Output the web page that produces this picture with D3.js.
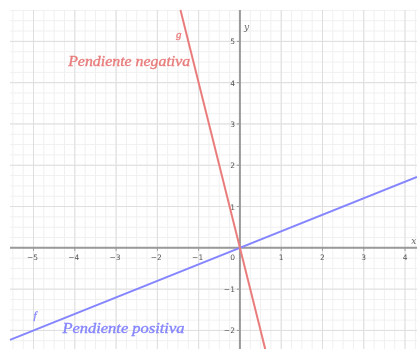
<!DOCTYPE html>
<html>
<head>
<meta charset="utf-8">
<script src="https://cdn.jsdelivr.net/npm/d3@7"></script>
<style>
  html, body { margin: 0; padding: 0; background: #fff; }
  svg { display: block; filter: blur(0.45px); }
</style>
</head>
<body>
<svg id="chart" width="417" height="349"></svg>
<script>
// ---- data ----
const xTicks = [-5, -4, -3, -2, -1, 1, 2, 3, 4];
const yTicks = [-2, -1, 1, 2, 3, 4, 5];
const xTickLabels = ["−5", "−4", "−3", "−2", "−1", "1", "2", "3", "4"];
const yTickLabels = ["−2", "−1", "1", "2", "3", "4", "5"];
const lineNames = ["f", "g"];
const lineSlopes = [0.4, -4];
const lineColors = ["#8585ff", "#e97c7c"];
const lineCaptions = ["Pendiente positiva", "Pendiente negativa"];
// where each caption/name sits (data coordinates)
const captionX = [-4.3, -4.16];
const captionY = [-2.07, 4.4];
const nameX = [-5.0, -1.55];
const nameY = [-1.72, 5.08];

// ---- scales ----
const x = d3.scaleLinear().domain([-5.57, 4.29]).range([10, 417]);
const y = d3.scaleLinear().domain([5.76, -2.45]).range([10, 349]);
const svg = d3.select("#chart");

// grid
const minorX = d3.range(-5.5, 4.3, 0.25);
const minorY = d3.range(-2.25, 5.8, 0.25);
const g = svg.append("g");
g.selectAll(".mx").data(minorX).join("line")
  .attr("x1", d => x(d)).attr("x2", d => x(d))
  .attr("y1", y.range()[0]).attr("y2", y.range()[1])
  .attr("stroke", "#f0f0f0").attr("stroke-width", 1);
g.selectAll(".my").data(minorY).join("line")
  .attr("y1", d => y(d)).attr("y2", d => y(d))
  .attr("x1", x.range()[0]).attr("x2", x.range()[1])
  .attr("stroke", "#f0f0f0").attr("stroke-width", 1);
const majorX = d3.range(-5, 5, 1);
const majorY = d3.range(-2, 6, 1);
g.selectAll(".Mx").data(majorX).join("line")
  .attr("x1", d => x(d)).attr("x2", d => x(d))
  .attr("y1", y.range()[0]).attr("y2", y.range()[1])
  .attr("stroke", "#dedede").attr("stroke-width", 1);
g.selectAll(".My").data(majorY).join("line")
  .attr("y1", d => y(d)).attr("y2", d => y(d))
  .attr("x1", x.range()[0]).attr("x2", x.range()[1])
  .attr("stroke", "#dedede").attr("stroke-width", 1);

// axes
const axisColor = "#9a9a9a";
svg.append("line").attr("x1", x.range()[0]).attr("x2", x.range()[1])
  .attr("y1", y(0)).attr("y2", y(0)).attr("stroke", axisColor).attr("stroke-width", 2);
svg.append("line").attr("x1", x(0)).attr("x2", x(0))
  .attr("y1", y.range()[0]).attr("y2", y.range()[1]).attr("stroke", axisColor).attr("stroke-width", 2);

// ticks
svg.selectAll(".xt").data(xTicks).join("line")
  .attr("x1", d => x(d)).attr("x2", d => x(d))
  .attr("y1", y(0)).attr("y2", y(0) + 3).attr("stroke", axisColor).attr("stroke-width", 1);
svg.selectAll(".yt").data(yTicks).join("line")
  .attr("y1", d => y(d)).attr("y2", d => y(d))
  .attr("x1", x(0) - 3).attr("x2", x(0)).attr("stroke", axisColor).attr("stroke-width", 1);

const tickFont = "DejaVu Sans, sans-serif";
svg.selectAll(".xl").data(xTicks).join("text")
  .attr("x", d => x(d) - (d < 0 ? 1 : 0)).attr("y", y(0) + 12)
  .attr("text-anchor", "middle").attr("font-family", tickFont).attr("font-size", 7.5)
  .attr("fill", "#555").text((d, i) => xTickLabels[i]);
svg.selectAll(".yl").data(yTicks).join("text")
  .attr("x", x(0) - 5).attr("y", d => y(d) + 3)
  .attr("text-anchor", "end").attr("font-family", tickFont).attr("font-size", 7.5)
  .attr("fill", "#555").text((d, i) => yTickLabels[i]);
svg.append("text").attr("x", x(0) - 5).attr("y", y(0) + 12)
  .attr("text-anchor", "end").attr("font-family", tickFont).attr("font-size", 7.5)
  .attr("fill", "#555").text("0");

// axis names
svg.append("text").attr("x", x(0) + 4).attr("y", y(5.28))
  .attr("font-family", "DejaVu Serif, serif").attr("font-style", "italic").attr("font-size", 9)
  .attr("fill", "#666").text("y");
svg.append("text").attr("x", x(4.15)).attr("y", y(0.1))
  .attr("font-family", "DejaVu Serif, serif").attr("font-style", "italic").attr("font-size", 9)
  .attr("fill", "#666").text("x");

// lines (clipped to the visible box)
const xd = x.domain(), yd = y.domain();
const lines = lineSlopes.map((m, i) => {
  let x0 = xd[0], x1 = xd[1];
  const ymin = yd[1], ymax = yd[0];
  if (m !== 0) {
    const xs = [ymin / m, ymax / m].sort((a, b) => a - b);
    x0 = Math.max(x0, xs[0]); x1 = Math.min(x1, xs[1]);
  }
  return { m, x0, x1, color: lineColors[i] };
});
svg.selectAll(".fn").data(lines).join("line")
  .attr("x1", d => x(d.x0)).attr("y1", d => y(d.m * d.x0))
  .attr("x2", d => x(d.x1)).attr("y2", d => y(d.m * d.x1))
  .attr("stroke", d => d.color).attr("stroke-width", 2);

// captions
const capFont = "Liberation Serif, serif";
svg.selectAll(".cap").data(lineCaptions).join("text")
  .attr("x", (d, i) => x(captionX[i])).attr("y", (d, i) => y(captionY[i]))
  .attr("font-family", capFont).attr("font-style", "italic").attr("font-size", 14)
  .attr("textLength", 122).attr("lengthAdjust", "spacingAndGlyphs")
  .attr("fill", (d, i) => lineColors[i])
  .attr("stroke", (d, i) => lineColors[i]).attr("stroke-width", 0.35)
  .text(d => d);
svg.selectAll(".nm").data(lineNames).join("text")
  .attr("x", (d, i) => x(nameX[i])).attr("y", (d, i) => y(nameY[i]))
  .attr("font-family", capFont).attr("font-style", "italic").attr("font-size", 11)
  .attr("fill", (d, i) => lineColors[i])
  .attr("stroke", (d, i) => lineColors[i]).attr("stroke-width", 0.3)
  .text(d => d);
</script>
</body>
</html>
